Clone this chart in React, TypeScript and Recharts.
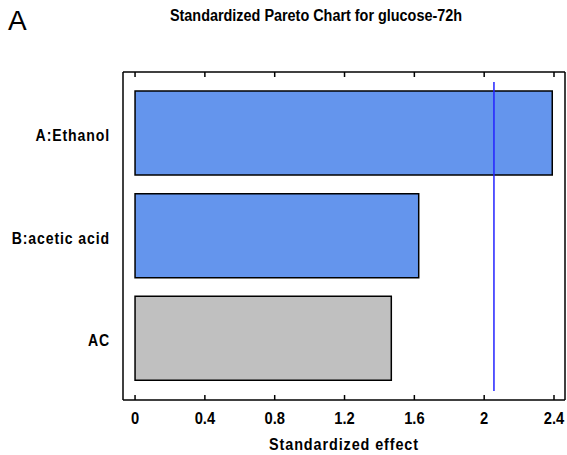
import { BarChart, Bar, XAxis, YAxis, ReferenceLine, Cell } from "recharts";

// Standardized effects for glucose at 72h
const categories = ["A:Ethanol", "B:acetic acid", "AC"];
const effects = [2.39, 1.625, 1.468];
const barColors = ["#6495ED", "#6495ED", "#C0C0C0"];
const xTicks = [0, 0.4, 0.8, 1.2, 1.6, 2, 2.4];
const xDomain: [number, number] = [-0.069, 2.463];
const criticalValue = 2.056;

const data = categories.map((name, i) => ({ name, effect: effects[i] }));

const FONT = "'Liberation Sans', Arial, sans-serif";
const frameLine = { stroke: "#000", strokeWidth: 1.5 };

function BottomTick({ x, y, payload }: any) {
  return (
    <g>
      <line x1={x} x2={x} y1={y - 10} y2={y - 15} stroke="#000" strokeWidth={1.5} />
      <text
        transform={`translate(${x},${y + 3}) scale(0.92,1)`}
        dy="0.71em"
        textAnchor="middle"
        fontFamily={FONT}
        fontWeight="bold"
        fontSize={16}
        fill="#000"
      >
        {payload.value}
      </text>
    </g>
  );
}

function TopTick({ x, y }: any) {
  return <line x1={x} x2={x} y1={y} y2={y + 5} stroke="#000" strokeWidth={1.5} />;
}

function CategoryTick({ x, y, payload }: any) {
  return (
    <text
      transform={`translate(${x},${y + 2}) scale(0.88,1)`}
      dy="0.35em"
      textAnchor="end"
      fontFamily={FONT}
      fontWeight="bold"
      fontSize={16}
      letterSpacing={1}
      fill="#000"
    >
      {payload.value}
    </text>
  );
}

// critical line stops a little short of the frame
function CriticalLine(props: any) {
  const { x1, x2, y1, y2 } = props;
  const top = Math.min(y1, y2);
  const bottom = Math.max(y1, y2);
  return <line x1={x1} x2={x2} y1={top + 10} y2={bottom - 9} stroke="#2323ff" strokeWidth={1.5} />;
}

export default function App() {
  return (
    <div style={{ position: "absolute", left: 0, top: 0, width: 567, height: 455, background: "#fff" }}>
      <div style={{ position: "absolute", left: 8, top: 4, fontFamily: FONT, fontSize: 28, lineHeight: "34px" }}>A</div>
      <div
        style={{
          position: "absolute",
          left: 0,
          width: 632,
          top: 6,
          textAlign: "center",
          fontFamily: FONT,
          fontWeight: "bold",
          fontSize: 16,
          lineHeight: "20px",
          transform: "scaleX(0.9)",
        }}
      >
        Standardized Pareto Chart for glucose-72h
      </div>
      <BarChart
        width={567}
        height={455}
        data={data}
        layout="vertical"
        margin={{ top: 71, right: 1, bottom: 15, left: 0 }}
        barSize={84}
      >
        <XAxis
          type="number"
          dataKey="effect"
          domain={xDomain}
          ticks={xTicks}
          allowDataOverflow
          height={40}
          tickSize={0}
          tickMargin={10}
          axisLine={frameLine}
          tickLine={false}
          tick={<BottomTick />}
        />
        <XAxis
          xAxisId="top"
          orientation="top"
          type="number"
          domain={xDomain}
          ticks={xTicks}
          allowDataOverflow
          height={1}
          tickSize={0}
          tickMargin={0}
          axisLine={frameLine}
          tickLine={false}
          tick={<TopTick />}
        />
        <YAxis
          type="category"
          dataKey="name"
          width={123}
          padding={{ top: 10, bottom: 10 }}
          tickSize={0}
          tickMargin={13}
          axisLine={frameLine}
          tickLine={false}
          tick={<CategoryTick />}
        />
        {/* right edge of the frame */}
        <YAxis
          yAxisId="right"
          orientation="right"
          type="number"
          domain={[0, 1]}
          allowDataOverflow
          width={1}
          axisLine={frameLine}
          tickLine={false}
          tick={false}
        />
        <Bar dataKey="effect" stroke="#000" strokeWidth={1.5} isAnimationActive={false}>
          {data.map((d, i) => (
            <Cell key={d.name} fill={barColors[i]} />
          ))}
        </Bar>
        <ReferenceLine x={criticalValue} shape={<CriticalLine />} />
      </BarChart>
      <div
        style={{
          position: "absolute",
          left: 123,
          width: 442,
          top: 435,
          textAlign: "center",
          fontFamily: FONT,
          fontWeight: "bold",
          fontSize: 16,
          letterSpacing: 1,
          lineHeight: "20px",
          transform: "scaleX(0.9)",
        }}
      >
        Standardized effect
      </div>
    </div>
  );
}
